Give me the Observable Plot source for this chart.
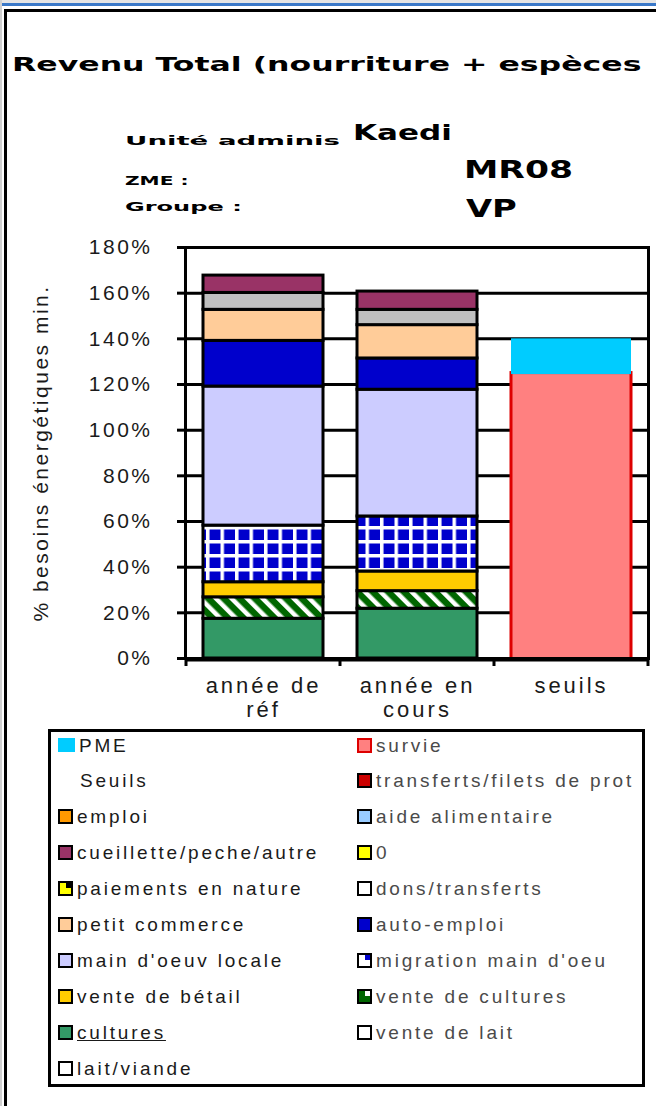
<!DOCTYPE html>
<html><head><meta charset="utf-8">
<script src="https://cdn.jsdelivr.net/npm/d3@7"></script>
<script src="https://cdn.jsdelivr.net/npm/@observablehq/plot@0.6"></script>
<style>
html,body{margin:0;padding:0;background:#fff;}
#page{position:relative;width:656px;height:1106px;overflow:hidden;background:#fff;font-family:"Liberation Sans",Arial,sans-serif;}
.abs{position:absolute;white-space:nowrap;}
.hdr{font-family:"DejaVu Sans";font-weight:bold;color:#000;line-height:1;transform-origin:0 0;display:inline-block;}
#chart{position:absolute;left:0;top:230px;}
#chart svg text{letter-spacing:2.5px;}
#chart g[aria-label="x-axis tick label"] text{letter-spacing:3px;}
.leg{position:absolute;display:flex;align-items:center;height:19px;font-size:19px;line-height:1;letter-spacing:2.8px;white-space:nowrap;}
.sw{width:11px;height:11px;border:2px solid #000;margin-right:4px;position:relative;flex:none;}
.acc{position:absolute;right:0;top:0;width:5px;height:5px;}
</style>
</head>
<body>
<div id="page">
  <div class="abs" style="left:0;top:0;width:656px;height:3px;background:#e4e4e4"></div>
  <div class="abs" style="left:0;top:3px;width:656px;height:3px;background:#3a78c8"></div>
  <div class="abs" style="left:0;top:0;width:2px;height:1106px;background:#d0d0d0"></div>
  <div class="abs" style="left:4px;top:9px;width:652px;height:3px;background:#000"></div>
  <div class="abs" style="left:4px;top:9px;width:3px;height:1097px;background:#000"></div>
  <div id="header"></div>
  <div id="chart"></div>
  <div class="abs" style="left:48px;top:729px;width:597px;height:358px;border:3px solid #000;box-sizing:border-box"></div>
  <div id="legend"></div>
</div>
<script>
// ---------- data ----------
const titleText = "Revenu Total (nourriture + espèces";
const infoLabels = ["Unité adminis", "ZME :", "Groupe :"];
const infoValues = ["Kaedi", "MR08", "VP"];

const categories = ["année de réf", "année en cours", "seuils"];
const xLabels = ["année de\nréf", "année en\ncours", "seuils"];

const sources = ["cultures", "vente de cultures", "vente de bétail", "migration main d'oeu",
  "main d'oeuv locale", "auto-emploi", "petit commerce", "dons/transferts", "cueillette/peche/autre"];
const refValues = [17.4, 9.4, 6.6, 24.8, 60.9, 20.0, 13.6, 7.4, 7.6];
const curValues = [21.8, 7.7, 8.6, 24.1, 55.5, 13.7, 14.6, 6.7, 8.0];
const sourceFills = ["#339966", "url(#hatch)", "#FFCC00", "url(#check)", "#CCCCFF", "#0000CC", "#FFCC99", "#C0C0C0", "#993366"];

const seuilNames = ["survie", "PME"];
const seuilValues = [125, 15];
const seuilFills = ["#FF8080", "#00CCFF"];
const seuilStrokes = ["#DD0000", "none"];

const yTicks = [0, 20, 40, 60, 80, 100, 120, 140, 160, 180];
const yLabel = "% besoins énergétiques min.";

const legendLeft = ["PME", "Seuils", "emploi", "cueillette/peche/autre", "paiements en nature",
  "petit commerce", "main d'oeuv locale", "vente de bétail", "cultures", "lait/viande"];
const legendLeftFills = ["#00CCFF", null, "#FF9900", "#993366", "#FFFF00", "#FFCC99", "#CCCCFF", "#FFCC00", "#339966", "#FFFFFF"];
const legendRight = ["survie", "transferts/filets de prot", "aide alimentaire", "0", "dons/transferts",
  "auto-emploi", "migration main d'oeu", "vente de cultures", "vente de lait"];
const legendRightFills = ["#FF8080", "#CC0000", "#99CCFF", "#FFFF00", "#FFFFFF", "#0000CC", "#FFFFFF", "#006600", "#FFFFFF"];
const legendAccents = {"paiements en nature": "#000000", "migration main d'oeu": "#0000CC", "vente de cultures": "#FFFFFF"};

// ---------- header ----------
const header = d3.select("#header");
header.append("div").attr("class", "abs").style("left", "12px").style("top", "55px")
  .append("span").attr("class", "hdr").style("font-size", "19px").style("transform", "scaleX(1.66)").text(titleText);
const infoSpecs = [
  {top: 130.5, sx: 2.12}, {top: 170.5, sx: 1.55}, {top: 196.5, sx: 1.85}];
infoLabels.forEach((t, i) => {
  header.append("div").attr("class", "abs").style("left", "125px").style("top", infoSpecs[i].top + "px")
    .append("span").attr("class", "hdr").style("font-size", "13px").style("transform", `scaleX(${infoSpecs[i].sx})`).text(t);
});
const valueSpecs = [
  {left: 353, top: 122.4, size: 22, sx: 1.41},
  {left: 464, top: 157, size: 25, sx: 1.38},
  {left: 466, top: 196, size: 25, sx: 1.35}];
infoValues.forEach((t, i) => {
  const s = valueSpecs[i];
  header.append("div").attr("class", "abs").style("left", s.left + "px").style("top", s.top + "px")
    .append("span").attr("class", "hdr").style("font-size", s.size + "px").style("transform", `scaleX(${s.sx})`).text(t);
});

// ---------- chart ----------
const incomeRows = sources.flatMap((s, i) => [
  {cat: categories[0], source: s, value: refValues[i], fill: sourceFills[i]},
  {cat: categories[1], source: s, value: curValues[i], fill: sourceFills[i]}
]);
const seuilRows = seuilNames.map((n, i) => ({cat: categories[2], name: n, value: seuilValues[i], fill: seuilFills[i], stroke: seuilStrokes[i]}));

function edgeTicks(index, scales) {
  const x = scales.x, y = scales.y;
  const edges = categories.map(c => x(c)).concat([x(categories[categories.length - 1]) + x.bandwidth()]);
  const g = d3.create("svg:g");
  g.selectAll("line").data(edges).join("line")
    .attr("x1", d => d).attr("x2", d => d)
    .attr("y1", y(0)).attr("y2", y(0) + 8)
    .attr("stroke", "#000").attr("stroke-width", 3);
  return g.node();
}

const chart = Plot.plot({
  width: 656, height: 500,
  marginLeft: 185, marginRight: 8, marginTop: 17, marginBottom: 72,
  style: {fontFamily: "Liberation Sans, Arial, sans-serif", background: "transparent", color: "#000", overflow: "visible"},
  x: {domain: categories, padding: 0},
  y: {domain: [0, 180]},
  color: {type: "identity"},
  marks: [
    Plot.ruleY(yTicks, {stroke: "#000", strokeWidth: 3}),
    Plot.barY(incomeRows, {x: "cat", y: "value", fill: "fill", stroke: "#000", strokeWidth: 3, insetLeft: 17, insetRight: 17}),
    Plot.barY(seuilRows, {x: "cat", y: "value", fill: "fill", stroke: "stroke", strokeWidth: 3, insetLeft: 17, insetRight: 17, insetBottom: -1.5}),
    Plot.frame({stroke: "#000", strokeWidth: 3}),
    Plot.ruleY([0], {stroke: "#000", strokeWidth: 4, dy: 1}),
    Plot.axisY({ticks: yTicks, tickFormat: d => d + "%", tickSize: 8, tickPadding: 25, strokeWidth: 3, fontSize: 21, fill: "#1a1a1a",
      label: yLabel, labelAnchor: "center", labelOffset: 152, labelArrow: false}),
    Plot.axisX({tickSize: 0, tickPadding: 17, fontSize: 22, lineHeight: 1.1, fill: "#1a1a1a",
      tickFormat: d => xLabels[categories.indexOf(d)], label: null}),
    edgeTicks
  ]
});

const svg = d3.select(chart);
const defs = svg.insert("defs", ":first-child");
const hatch = defs.append("pattern").attr("id", "hatch").attr("patternUnits", "userSpaceOnUse")
  .attr("width", 11).attr("height", 11).attr("patternTransform", "rotate(-45)");
hatch.append("rect").attr("width", 11).attr("height", 11).attr("fill", "#006600");
hatch.append("rect").attr("width", 4.5).attr("height", 11).attr("fill", "#FFFFFF");
const check = defs.append("pattern").attr("id", "check").attr("patternUnits", "userSpaceOnUse")
  .attr("width", 14.5).attr("height", 14).attr("x", 3).attr("y", 2);
check.append("rect").attr("width", 14.5).attr("height", 14).attr("fill", "#FFFFFF");
check.append("rect").attr("x", 3.5).attr("y", 3.5).attr("width", 11).attr("height", 10.5).attr("fill", "#0000CC");

document.getElementById("chart").appendChild(chart);

// ---------- legend ----------
const legend = d3.select("#legend");
function addItems(names, fills, left, color) {
  names.forEach((n, i) => {
    const item = legend.append("div").attr("class", "leg")
      .style("left", left + "px").style("top", (735.5 + i * 35.9) + "px").style("color", color);
    const f = fills[i];
    if (f === null) {
      item.append("span").style("display", "inline-block").style("width", "22px");
    } else {
      const sw = item.append("div").attr("class", "sw").style("background", f);
      if (n === "PME") sw.style("border", "none").style("width", "17px").style("height", "14px");
      if (n === "survie") sw.style("border-color", "#DD0000");
      if (legendAccents[n]) sw.append("div").attr("class", "acc").style("background", legendAccents[n]);
    }
    const t = item.append("span").text(n);
    if (n === "cultures") t.style("text-decoration", "underline");
  });
}
addItems(legendLeft, legendLeftFills, 58, "#1a1a1a");
addItems(legendRight, legendRightFills, 357, "#4a4a4a");
</script>
</body></html>
